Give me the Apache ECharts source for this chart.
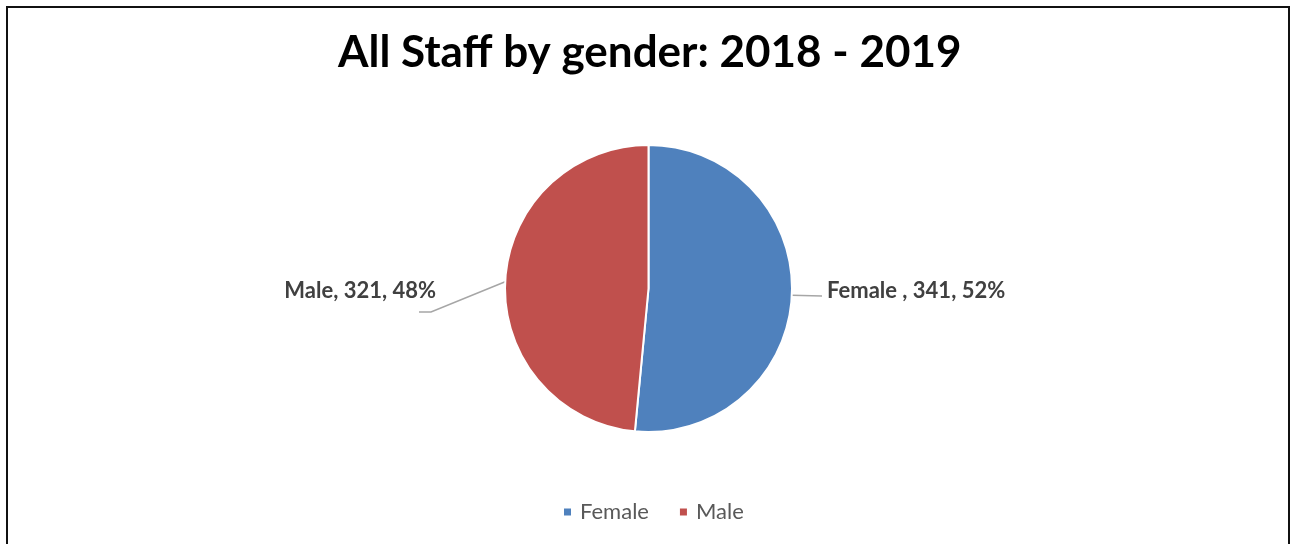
<!DOCTYPE html>
<html>
<head>
<meta charset="utf-8">
<script src="https://cdn.jsdelivr.net/npm/echarts@6/dist/echarts.min.js"></script>
<style>
  html, body { margin: 0; padding: 0; background: #ffffff; }
  #frame {
    position: absolute; left: 6px; top: 6px; width: 1284px; height: 560px;
    border: 2px solid #111111; border-bottom: none; box-sizing: border-box;
  }
  #chart { position: absolute; left: 0; top: 0; width: 1290px; height: 544px; }
</style>
</head>
<body>
<div id="frame"></div>
<div id="chart"></div>
<script>
// Staff headcount by gender
const titleText = 'All Staff by gender: 2018 - 2019';
const categories = ['Female ', 'Male'];
const legendNames = ['Female', 'Male'];
const staffCounts = [341, 321];
const sliceColors = ['#4F81BD', '#C0504D'];

const total = staffCounts.reduce((a, b) => a + b, 0);
const pieData = categories.map((c, i) => ({
  name: legendNames[i],
  value: staffCounts[i],
  labelName: c,
  itemStyle: { color: sliceColors[i] }
}));

const chart = echarts.init(document.getElementById('chart'), null, { renderer: 'canvas' });

const labelFont = 'Lato, "Open Sans", sans-serif';

chart.setOption({
  backgroundColor: 'transparent',
  animation: false,
  title: {
    text: titleText,
    left: 338,
    top: 31,
    padding: 0,
    textStyle: { fontFamily: labelFont, fontWeight: 'bold', fontSize: 44, color: '#000000' }
  },
  legend: {
    bottom: 16,
    left: 557,
    icon: 'rect',
    itemWidth: 9,
    itemHeight: 9,
    itemGap: 29,
    data: legendNames,
    textStyle: { fontFamily: labelFont, fontSize: 22, color: '#595959', padding: [0, 0, 0, 3] }
  },
  series: [{
    type: 'pie',
    center: [648.5, 288.5],
    radius: [0, 143.5],
    startAngle: 90,
    clockwise: true,
    data: pieData,
    itemStyle: { borderColor: '#ffffff', borderWidth: 2 },
    label: {
      show: true,
      formatter: p => p.data.labelName + ', ' + p.value + ', ' + Math.round(p.value / total * 100) + '%',
      fontFamily: labelFont,
      fontWeight: 'bold',
      fontSize: 22,
      color: '#404040'
    },
    labelLine: { show: true, length: 20, length2: 10, lineStyle: { color: '#A6A6A6', width: 1.5 } },
    labelLayout: function (params) {
      const start = params.labelLinePoints ? params.labelLinePoints[0] : null;
      if (params.dataIndex === 0) {
        return {
          x: 827, y: 291, align: 'left', verticalAlign: 'middle',
          labelLinePoints: start ? [start, [822, 296], [822, 296]] : undefined
        };
      }
      return {
        x: 436, y: 291, align: 'right', verticalAlign: 'middle',
        labelLinePoints: start ? [start, [431, 312], [419, 312]] : undefined
      };
    },
    emphasis: { disabled: true }
  }]
});
</script>
</body>
</html>
